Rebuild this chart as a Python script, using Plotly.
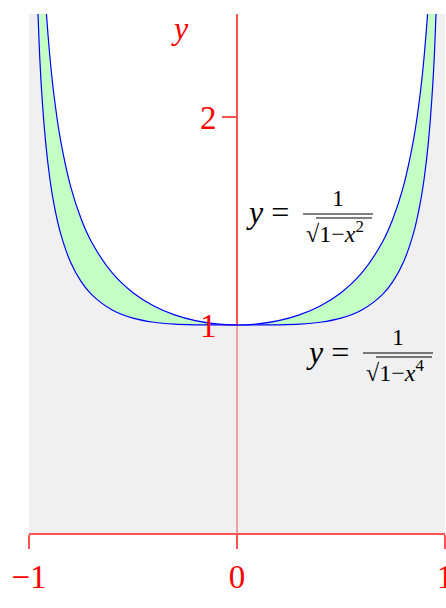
import plotly.graph_objects as go

# curve y = 1/sqrt(1-x^2)  (values read / tabulated)
X_A = [-0.94, -0.92, -0.90, -0.88, -0.85, -0.80, -0.75, -0.70, -0.60, -0.50, -0.40, -0.30, -0.20, -0.10, 0.0,
       0.10, 0.20, 0.30, 0.40, 0.50, 0.60, 0.70, 0.75, 0.80, 0.85, 0.88, 0.90, 0.92, 0.94]
Y_A = [2.93103, 2.55155, 2.29416, 2.10538, 1.89832, 1.66667, 1.51186, 1.40028, 1.25, 1.15470, 1.09109, 1.04828, 1.02062, 1.00504, 1.0,
       1.00504, 1.02062, 1.04828, 1.09109, 1.15470, 1.25, 1.40028, 1.51186, 1.66667, 1.89832, 2.10538, 2.29416, 2.55155, 2.93103]

# curve y = 1/sqrt(1-x^4)
X_B = [-0.97, -0.96, -0.95, -0.94, -0.92, -0.90, -0.88, -0.85, -0.80, -0.75, -0.70, -0.60, -0.50, -0.40, -0.30, -0.20, -0.10, 0.0,
       0.10, 0.20, 0.30, 0.40, 0.50, 0.60, 0.70, 0.75, 0.80, 0.85, 0.88, 0.90, 0.92, 0.94, 0.95, 0.96, 0.97]
Y_B = [2.95255, 2.57639, 2.32187, 2.13565, 1.87776, 1.70524, 1.58055, 1.44640, 1.30143, 1.20948, 1.14716, 1.07187, 1.03280, 1.01305, 1.00407, 1.0008, 1.00005, 1.0,
       1.00005, 1.0008, 1.00407, 1.01305, 1.03280, 1.07187, 1.14716, 1.20948, 1.30143, 1.44640, 1.58055, 1.70524, 1.87776, 2.13565, 2.32187, 2.57639, 2.95255]

X_RANGE = [-1, 1]
Y_RANGE = [0, 2.495]
X_TICKS = [-1, 0, 1]
X_TICK_TEXT = ["\u22121", "0", "1"]
Y_TICKS = [1, 2]
Y_TICK_TEXT = ["1", "2"]

RED = "rgba(255,0,0,0.68)"
FONT = "Liberation Serif"

fig = go.Figure()

# gray region under the lower curve
fig.add_trace(go.Scatter(
    x=[X_RANGE[0]] + X_B + [X_RANGE[1]], y=[Y_B[0]] + Y_B + [Y_B[-1]],
    mode="lines", line=dict(width=0, shape="spline"), fill="tozeroy",
    fillcolor="rgba(227,227,227,0.55)", hoverinfo="skip", showlegend=False))

# green band between curves
fig.add_trace(go.Scatter(
    x=X_B + X_A[::-1], y=Y_B + Y_A[::-1],
    mode="lines", line=dict(width=0, shape="spline"), fill="toself",
    fillcolor="#c4ffc4", hoverinfo="skip", showlegend=False))

for xs, ys in ((X_A, Y_A), (X_B, Y_B)):
    fig.add_trace(go.Scatter(x=xs, y=ys, mode="lines",
                             line=dict(color="blue", width=1.2, shape="spline"),
                             hoverinfo="skip", showlegend=False))

# empty trace so the label-only overlay axis is drawn
fig.add_trace(go.Scatter(x=[], y=[], yaxis="y2", showlegend=False, hoverinfo="skip"))

W, H = 446, 608
PL, PR, PT, PB = 29, 445, 14, 533   # plot area edges in window pixels
L, T = PL, PT
R = W - PR
B = H - PB


def px2x(px):
    return X_RANGE[0] + (px - PL) / (PR - PL) * (X_RANGE[1] - X_RANGE[0])


def py2y(py):
    return Y_RANGE[0] + (PB - py) / (PB - PT) * (Y_RANGE[1] - Y_RANGE[0])


annotations = []
shapes = []


def fraction(x_y, x_bar0, x_bar1, y_bar, y_eq, sup):
    annotations.append(dict(x=px2x(x_y), y=py2y(y_eq), xref="x", yref="y", text="<i>y</i> =",
                            showarrow=False, xanchor="left", yanchor="middle",
                            font=dict(family=FONT, size=32, color="black")))
    annotations.append(dict(x=px2x((x_bar0 + x_bar1) / 2), y=py2y(y_bar - 1), xref="x", yref="y", text="1",
                            showarrow=False, xanchor="center", yanchor="bottom",
                            font=dict(family=FONT, size=24, color="black")))
    annotations.append(dict(x=px2x(x_bar0 + 1), y=py2y(y_bar + 1), xref="x", yref="y",
                            text="\u221a1\u2212<i>x</i><sup>%s</sup>" % sup,
                            showarrow=False, xanchor="left", yanchor="top",
                            font=dict(family=FONT, size=24, color="black")))
    shapes.append(dict(type="line", xref="x", yref="y", x0=px2x(x_bar0), x1=px2x(x_bar1),
                       y0=py2y(y_bar), y1=py2y(y_bar), line=dict(color="black", width=1)))
    # vinculum of the square root
    shapes.append(dict(type="line", xref="x", yref="y", x0=px2x(x_bar0 + 13), x1=px2x(x_bar1 - 1),
                       y0=py2y(y_bar + 4), y1=py2y(y_bar + 4), line=dict(color="black", width=1)))


fraction(244, 303, 373, 214, 212, "2")
fraction(304, 363, 433, 353, 352, "4")

annotations.append(dict(x=px2x(180), y=py2y(28), xref="x", yref="y", text="<i>y</i>", showarrow=False,
                        font=dict(family=FONT, size=32, color="red")))
annotations.append(dict(x=px2x(438), y=py2y(582), xref="x", yref="y", text="<i>x</i>", showarrow=False,
                        xanchor="left", yanchor="top", font=dict(family=FONT, size=32, color="red")))

fig.update_layout(
    width=W, height=H, autosize=False, margin=dict(l=L, r=R, t=T, b=B, autoexpand=False),
    paper_bgcolor="white", plot_bgcolor="white",
    annotations=annotations, shapes=shapes,
    xaxis=dict(range=X_RANGE, showgrid=False, zeroline=False, showline=True, linecolor=RED, linewidth=1.5,
               ticks="outside", ticklen=14, tickwidth=1.5, tickcolor=RED, automargin=False,
               ticklabeloverflow="allow",
               tickvals=X_TICKS, ticktext=X_TICK_TEXT, tickfont=dict(family=FONT, size=33, color="red"),
               layer="below traces", fixedrange=True),
    yaxis=dict(range=Y_RANGE, showgrid=False, zeroline=False, showline=True, linecolor=RED, linewidth=1.5,
               anchor="free", position=0.5, side="left", automargin=False,
               ticks="outside", ticklen=14, tickwidth=1.5, tickcolor=RED,
               tickvals=Y_TICKS, showticklabels=False,
               layer="below traces", fixedrange=True),
    yaxis2=dict(range=Y_RANGE, overlaying="y", showgrid=False, zeroline=False, showline=False,
                anchor="free", position=0.5, side="left", automargin=False,
                ticks="outside", ticklen=14, tickcolor="rgba(0,0,0,0)",
                tickvals=Y_TICKS, ticktext=Y_TICK_TEXT, tickfont=dict(family=FONT, size=33, color="red"),
                layer="above traces", fixedrange=True),
)

PAGE_CSS_JS = ("document.documentElement.style.overflow='hidden';"
               "document.body.style.overflow='hidden';"
               "document.body.style.margin='0';")

fig.write_html("out.html", config={"responsive": False, "displayModeBar": False}, post_script=PAGE_CSS_JS)
